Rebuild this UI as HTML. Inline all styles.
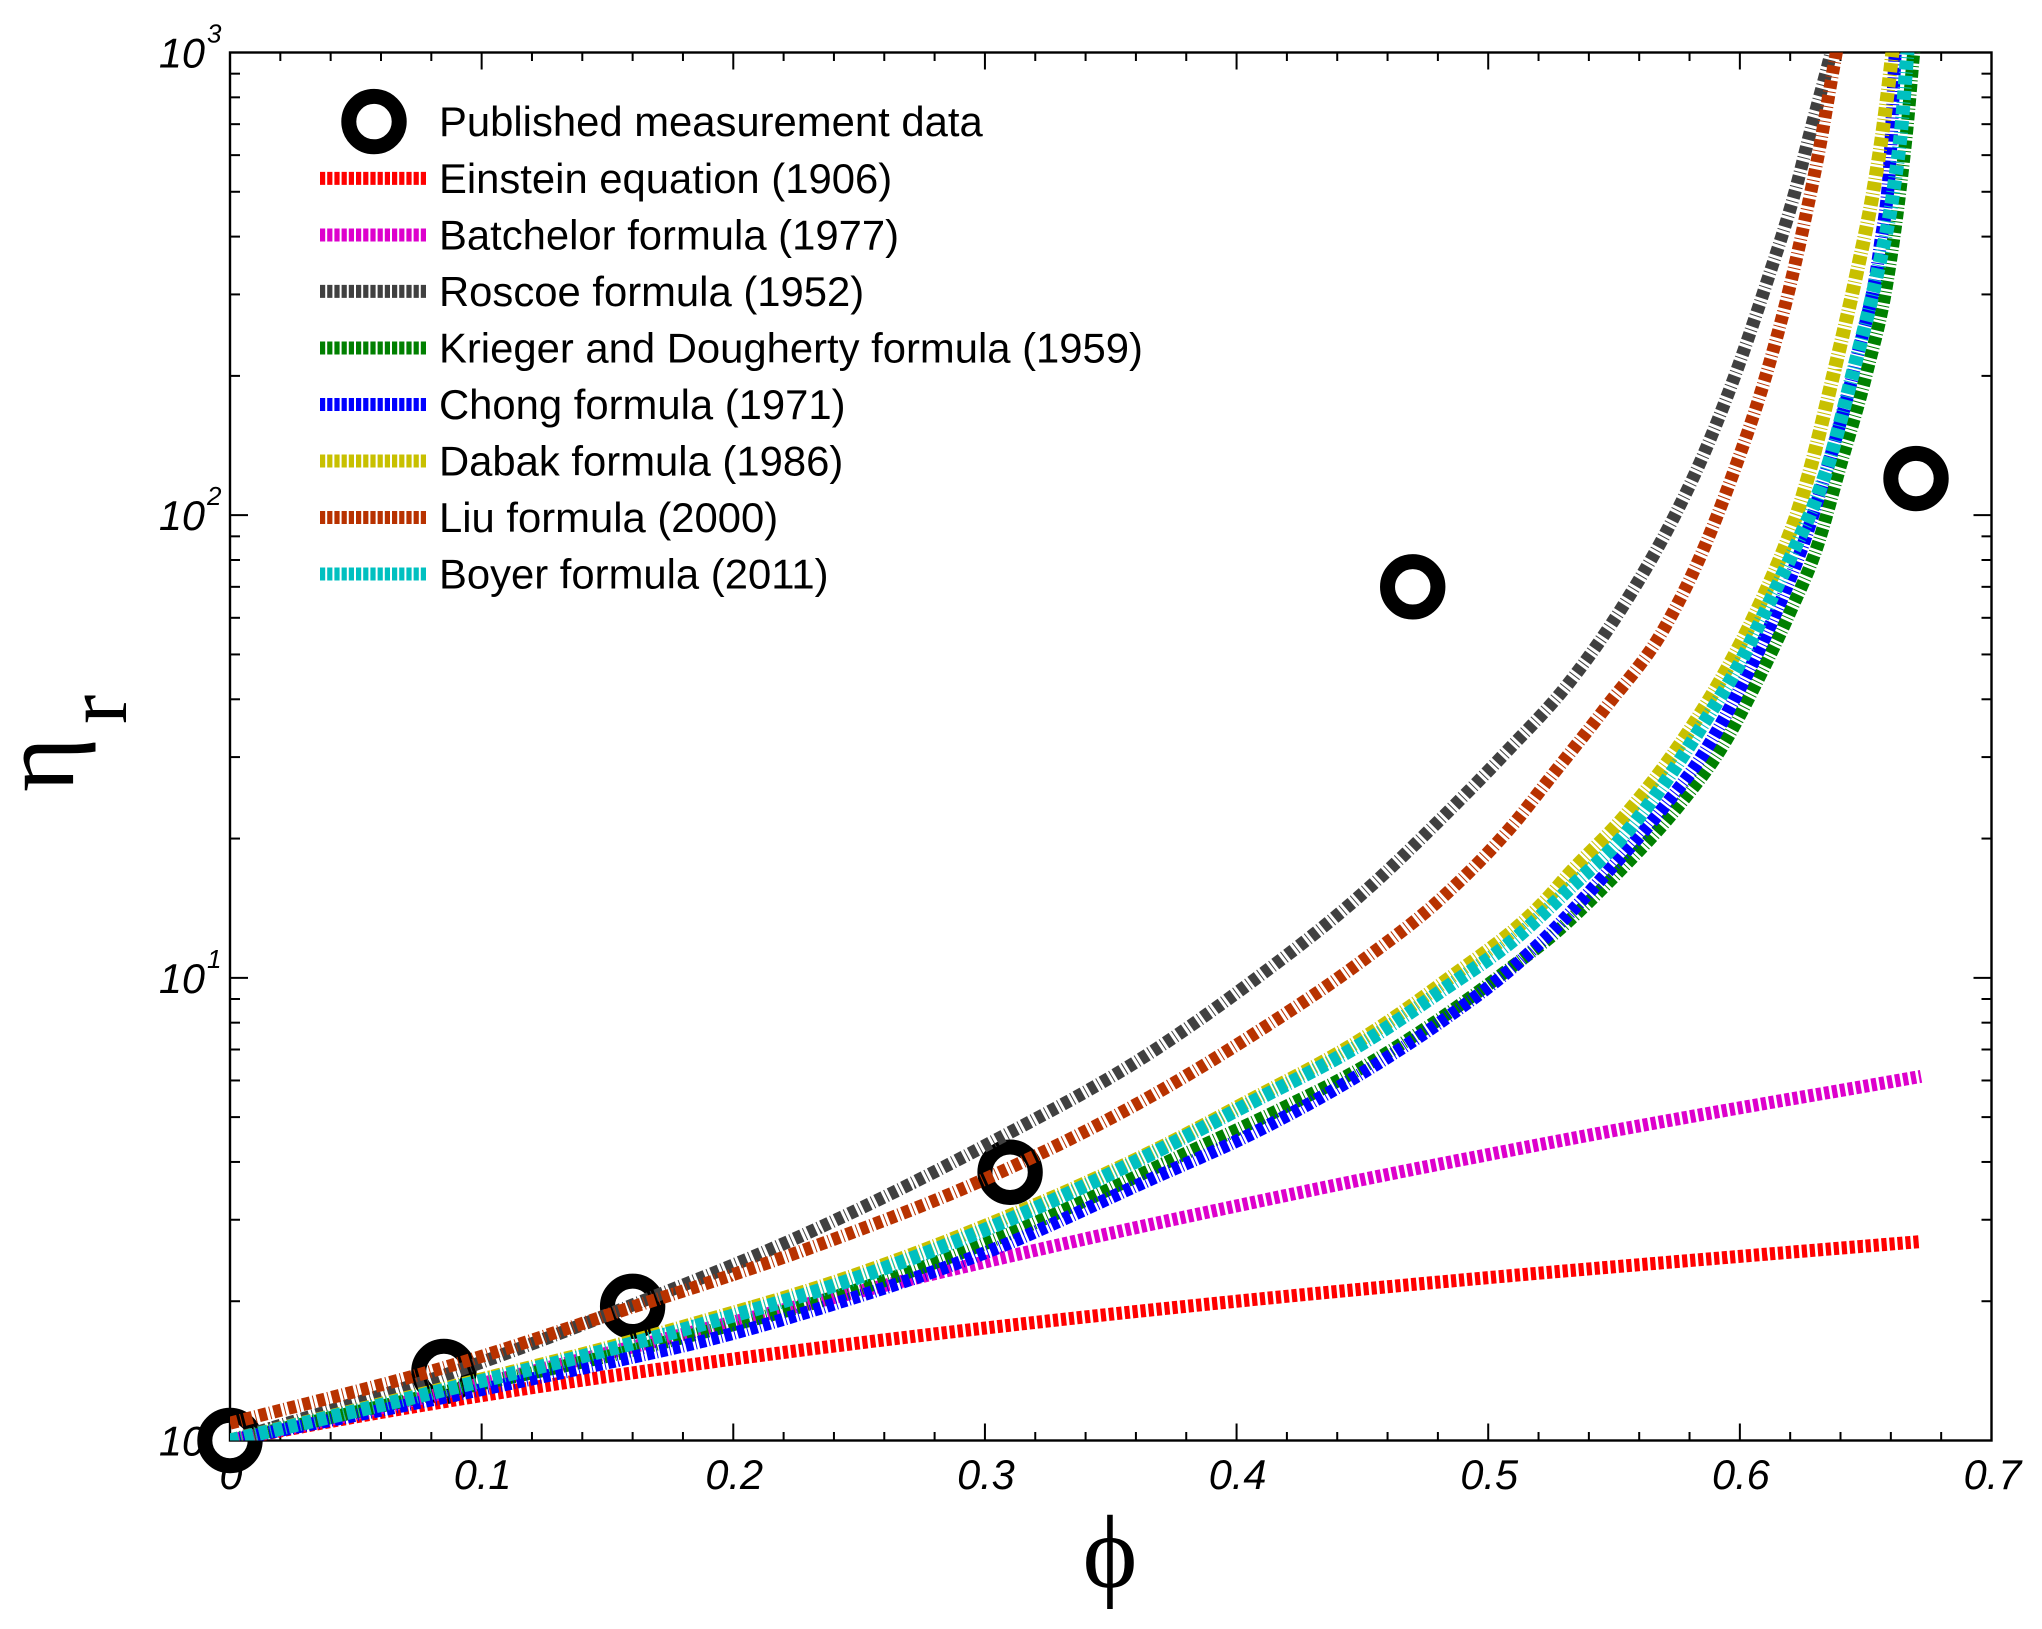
<!DOCTYPE html>
<html lang="en">
<head>
<meta charset="utf-8">
<title>Relative viscosity versus volume fraction</title>
<style>
html,body{margin:0;padding:0;background:#fff;}
svg{display:block;}
text{font-family:"Liberation Sans",sans-serif;fill:#000;}
.tick-label{font-style:italic;font-size:41.5px;}
.legend-text{font-size:41.8px;}
.axis-symbol{font-family:"Liberation Serif","DejaVu Serif",serif;}
</style>
</head>
<body>
<svg id="chart" xmlns="http://www.w3.org/2000/svg" width="2042" height="1629" viewBox="0 0 2042 1629">
  <rect x="0" y="0" width="2042" height="1629" fill="#fff"/>
  <defs><clipPath id="plot-clip"><rect x="230" y="52.5" width="1761.5" height="1388"/></clipPath></defs>
  <g id="x-tick-labels"></g>
  <g id="y-tick-labels"></g>
  <g id="markers"></g>
  <g id="axes"></g>
  <g id="curves" clip-path="url(#plot-clip)"></g>

  <text class="axis-symbol" x="1110" y="1587" font-size="104" text-anchor="middle">&#981;</text>
  <g>
    <text class="axis-symbol" transform="translate(73 792) rotate(-90)" font-size="105">&#951;</text>
    <text class="axis-symbol" transform="translate(126 724) rotate(-90)" font-size="88">r</text>
  </g>

  <g>
    <g>
      <circle cx="374" cy="121.6" r="25.2" fill="none" stroke="#000" stroke-width="15"/>
      <text class="legend-text" x="439" y="136">Published measurement data</text>
    </g>
    <g>
      <line x1="320" x2="427" y1="178.4" y2="178.4" stroke="#ff0000" stroke-width="13" stroke-dasharray="5.2 2"/>
      <text class="legend-text" x="439" y="193">Einstein equation (1906)</text>
    </g>
    <g>
      <line x1="320" x2="427" y1="235" y2="235" stroke="#dd00cc" stroke-width="13" stroke-dasharray="5.2 2"/>
      <text class="legend-text" x="439" y="249.6">Batchelor formula (1977)</text>
    </g>
    <g>
      <line x1="320" x2="427" y1="291.4" y2="291.4" stroke="#404040" stroke-width="13" stroke-dasharray="5.2 2"/>
      <text class="legend-text" x="439" y="306">Roscoe formula (1952)</text>
    </g>
    <g>
      <line x1="320" x2="427" y1="348" y2="348" stroke="#008000" stroke-width="13" stroke-dasharray="5.2 2"/>
      <text class="legend-text" x="439" y="362.6">Krieger and Dougherty formula (1959)</text>
    </g>
    <g>
      <line x1="320" x2="427" y1="404.5" y2="404.5" stroke="#0000ff" stroke-width="13" stroke-dasharray="5.2 2"/>
      <text class="legend-text" x="439" y="419">Chong formula (1971)</text>
    </g>
    <g>
      <line x1="320" x2="427" y1="461" y2="461" stroke="#c8c000" stroke-width="13" stroke-dasharray="5.2 2"/>
      <text class="legend-text" x="439" y="475.6">Dabak formula (1986)</text>
    </g>
    <g>
      <line x1="320" x2="427" y1="517.5" y2="517.5" stroke="#b83200" stroke-width="13" stroke-dasharray="5.2 2"/>
      <text class="legend-text" x="439" y="532">Liu formula (2000)</text>
    </g>
    <g>
      <line x1="320" x2="427" y1="574" y2="574" stroke="#00c0c0" stroke-width="13" stroke-dasharray="5.2 2"/>
      <text class="legend-text" x="439" y="588.6">Boyer formula (2011)</text>
    </g>
  </g>
</svg>
<script>
// Axis tick data
const xMajorTicks = [0, 0.1, 0.2, 0.3, 0.4, 0.5, 0.6, 0.7];
const xTickLabels = ["0", "0.1", "0.2", "0.3", "0.4", "0.5", "0.6", "0.7"];
const yDecades = [1, 10, 100, 1000];
const yDecadeExponents = ["0", "1", "2", "3"];

// Measurement data
const measuredPhi = [0, 0.085, 0.16, 0.31, 0.47, 0.67];
const measuredEta = [1, 1.41, 1.95, 3.8, 70, 120];

// Model curves (values are log10 of the relative viscosity)
const einsteinPhi = [0, 0.05, 0.1, 0.2, 0.3, 0.4, 0.5, 0.6, 0.672];
const einsteinLogEta = [0, 0.051, 0.097, 0.176, 0.243, 0.301, 0.352, 0.398, 0.43];

const batchelorPhi = [0, 0.05, 0.1, 0.15, 0.2, 0.25, 0.3, 0.35, 0.4, 0.45, 0.5, 0.55, 0.6, 0.65, 0.672];
const batchelorLogEta = [0, 0.058, 0.123, 0.189, 0.256, 0.322, 0.386, 0.448, 0.507, 0.564, 0.618, 0.67, 0.719, 0.766, 0.787];

const roscoePhi = [0, 0.091, 0.16, 0.225, 0.302, 0.3656, 0.4053, 0.4502, 0.482, 0.5075, 0.5317, 0.5543, 0.5742, 0.5842, 0.5973, 0.6108, 0.6212, 0.629, 0.6358, 0.638];
const roscoeLogEta = [0, 0.152, 0.293, 0.4375, 0.643, 0.8375, 0.9887, 1.183, 1.348, 1.49, 1.635, 1.81, 2.0, 2.114, 2.291, 2.505, 2.685, 2.85, 2.99, 3.04];

const kriegerPhi = [0, 0.091, 0.16, 0.1868, 0.24, 0.302, 0.3843, 0.4185, 0.4502, 0.482, 0.5114, 0.5234, 0.5499, 0.5775, 0.5925, 0.6077, 0.6199, 0.6306, 0.6396, 0.6505, 0.6584, 0.6636, 0.6668, 0.669, 0.671];
const kriegerLogEta = [0, 0.112, 0.195, 0.232, 0.31, 0.43, 0.632, 0.719, 0.807, 0.916, 1.032, 1.082, 1.218, 1.384, 1.495, 1.65, 1.79, 1.93, 2.1, 2.31, 2.5, 2.7, 2.858, 2.995, 3.1];

const chongPhi = [0, 0.091, 0.16, 0.1868, 0.24, 0.302, 0.364, 0.4105, 0.4502, 0.482, 0.5114, 0.5234, 0.5468, 0.5699, 0.585, 0.6, 0.614, 0.626, 0.6346, 0.6465, 0.6557, 0.6597, 0.6617, 0.663];
const chongLogEta = [0, 0.1, 0.18, 0.213, 0.295, 0.41, 0.56, 0.675, 0.795, 0.908, 1.03, 1.09, 1.225, 1.37, 1.48, 1.625, 1.785, 1.95, 2.1, 2.34, 2.58, 2.77, 2.995, 3.1];

const dabakPhi = [0, 0.091, 0.16, 0.1868, 0.24, 0.302, 0.3708, 0.4053, 0.4502, 0.482, 0.5234, 0.5317, 0.5543, 0.5775, 0.5925, 0.6077, 0.6184, 0.6228, 0.6267, 0.637, 0.6465, 0.653, 0.657, 0.6605, 0.662];
const dabakLogEta = [0, 0.12, 0.215, 0.256, 0.342, 0.468, 0.636, 0.735, 0.869, 0.989, 1.171, 1.222, 1.35, 1.515, 1.645, 1.805, 1.94, 2.005, 2.075, 2.3, 2.525, 2.7, 2.84, 2.995, 3.07];

const liuPhi = [0, 0.091, 0.16, 0.1868, 0.24, 0.3, 0.3656, 0.4053, 0.4502, 0.482, 0.5114, 0.5234, 0.5468, 0.5699, 0.5834, 0.5973, 0.6108, 0.6199, 0.6267, 0.6319, 0.637, 0.639];
const liuLogEta = [0.0374, 0.167, 0.2885, 0.335, 0.435, 0.565, 0.743, 0.873, 1.038, 1.175, 1.341, 1.424, 1.585, 1.755, 1.9, 2.09, 2.31, 2.495, 2.66, 2.8, 2.96, 3.02];

const boyerPhi = [0, 0.091, 0.16, 0.1868, 0.24, 0.302, 0.3708, 0.4053, 0.4502, 0.482, 0.5114, 0.5234, 0.5317, 0.5543, 0.5699, 0.585, 0.6, 0.6125, 0.6228, 0.63, 0.6346, 0.645, 0.6545, 0.661, 0.6644, 0.6665, 0.668];
const boyerLogEta = [0, 0.117, 0.21, 0.25, 0.335, 0.46, 0.632, 0.729, 0.859, 0.974, 1.088, 1.147, 1.19, 1.31, 1.42, 1.545, 1.68, 1.82, 1.94, 2.03, 2.1, 2.31, 2.52, 2.7, 2.85, 2.995, 3.08];

const NS = 'http://www.w3.org/2000/svg';
const plot = { left: 230, right: 1991.5, top: 52.5, bottom: 1440.5 };
const xMax = 0.7;
const yMinLog = 0;
const yMaxLog = 3;

function xScale(phi) {
  return plot.left + (phi / xMax) * (plot.right - plot.left);
}
function yScaleLog(logEta) {
  return plot.bottom - ((logEta - yMinLog) / (yMaxLog - yMinLog)) * (plot.bottom - plot.top);
}
function yScale(eta) {
  return yScaleLog(Math.log10(eta));
}
function make(tag, attrs) {
  const el = document.createElementNS(NS, tag);
  for (const k in attrs) el.setAttribute(k, attrs[k]);
  return el;
}

// Tick labels
const xLabelGroup = document.getElementById('x-tick-labels');
xMajorTicks.forEach(function (v, i) {
  const t = make('text', { x: xScale(v) + 1, y: 1489, 'text-anchor': 'middle', class: 'tick-label' });
  
  
  t.textContent = xTickLabels[i];
  xLabelGroup.appendChild(t);
});
const yLabelGroup = document.getElementById('y-tick-labels');
yDecades.forEach(function (v, i) {
  const y = yScale(v);
  const base = make('text', { x: 205, y: y + 15, 'text-anchor': 'end', class: 'tick-label' });
  
  
  base.textContent = '10';
  yLabelGroup.appendChild(base);
  const sup = make('text', { x: 207, y: y - 10, 'font-size': 26, 'font-style': 'italic' });
  
  
  sup.textContent = yDecadeExponents[i];
  yLabelGroup.appendChild(sup);
});

// Markers sit below the axes and curves
const markerGroup = document.getElementById('markers');
measuredPhi.forEach(function (p, i) {
  const c = make('circle', { cx: xScale(p), cy: yScale(measuredEta[i]), r: 25.2, fill: '#fff', stroke: '#000', 'stroke-width': 15 });
  
  
  markerGroup.appendChild(c);
});

// Axes frame and ticks
const axesGroup = document.getElementById('axes');
const frame = make('rect', { x: plot.left, y: plot.top, width: plot.right - plot.left, height: plot.bottom - plot.top, fill: 'none', stroke: '#000', 'stroke-width': 2.4 });


axesGroup.appendChild(frame);

function addTick(x1, y1, x2, y2) {
  const l = make('line', { x1: x1, y1: y1, x2: x2, y2: y2, stroke: '#000', 'stroke-width': 2 });
  
  
  axesGroup.appendChild(l);
}
const xSteps = Math.round(xMax / 0.02);
for (let i = 1; i < xSteps; i++) {
  const x = xScale(i * 0.02);
  const len = i % 5 === 0 ? 17 : 8.5;
  addTick(x, plot.bottom, x, plot.bottom - len);
  addTick(x, plot.top, x, plot.top + len);
}
yDecades.forEach(function (d, i) {
  if (i > 0 && i < yDecades.length - 1) {
    addTick(plot.left, yScale(d), plot.left + 18, yScale(d));
    addTick(plot.right, yScale(d), plot.right - 18, yScale(d));
  }
  if (i < yDecades.length - 1) {
    for (let m = 2; m <= 9; m++) {
      addTick(plot.left, yScale(d * m), plot.left + 10, yScale(d * m));
      addTick(plot.right, yScale(d * m), plot.right - 10, yScale(d * m));
    }
  }
});

// Curves: cubic Hermite through the points, with tangents that respect uneven spacing
function smoothPath(xs, ys) {
  const px = xs.map(xScale);
  const py = ys.map(yScaleLog);
  const n = px.length;
  const slope = [];
  for (let i = 0; i < n; i++) {
    if (i === 0) {
      slope.push((py[1] - py[0]) / (px[1] - px[0]));
    } else if (i === n - 1) {
      slope.push((py[n - 1] - py[n - 2]) / (px[n - 1] - px[n - 2]));
    } else {
      const h0 = px[i] - px[i - 1];
      const h1 = px[i + 1] - px[i];
      const s0 = (py[i] - py[i - 1]) / h0;
      const s1 = (py[i + 1] - py[i]) / h1;
      slope.push((s0 * h1 + s1 * h0) / (h0 + h1));
    }
  }
  let d = 'M' + px[0].toFixed(2) + ' ' + py[0].toFixed(2);
  for (let i = 0; i < n - 1; i++) {
    const h = px[i + 1] - px[i];
    d += 'C' + (px[i] + h / 3).toFixed(2) + ' ' + (py[i] + slope[i] * h / 3).toFixed(2) + ' ' +
      (px[i + 1] - h / 3).toFixed(2) + ' ' + (py[i + 1] - slope[i + 1] * h / 3).toFixed(2) + ' ' +
      px[i + 1].toFixed(2) + ' ' + py[i + 1].toFixed(2);
  }
  return d;
}
const curveGroup = document.getElementById('curves');
function addCurve(name, xs, ys, color, dash, width) {
  const p = make('path', { d: smoothPath(xs, ys), fill: 'none', stroke: color, 'stroke-width': width, 'stroke-dasharray': dash });
  
  
  curveGroup.appendChild(p);
}
addCurve('einstein-curve', einsteinPhi, einsteinLogEta, '#ff0000', '5.2 2.8', 13);
addCurve('batchelor-curve', batchelorPhi, batchelorLogEta, '#dd00cc', '5.2 2.8', 13);
addCurve('roscoe-curve', roscoePhi, roscoeLogEta, '#404040', '8 3 1 3', 13);
addCurve('krieger-curve', kriegerPhi, kriegerLogEta, '#008000', '8 2.6 1 2.6', 13);
addCurve('chong-curve', chongPhi, chongLogEta, '#0000ff', '7.5 2.4 1 2.4', 13);
addCurve('dabak-curve', dabakPhi, dabakLogEta, '#c8c000', '9 2.4 1 2.6', 14);
addCurve('liu-curve', liuPhi, liuLogEta, '#b83200', '8 3 1 3', 13);
addCurve('boyer-curve', boyerPhi, boyerLogEta, '#00c0c0', '9 2.4 1 2.6', 14);
</script>
</body>
</html>
